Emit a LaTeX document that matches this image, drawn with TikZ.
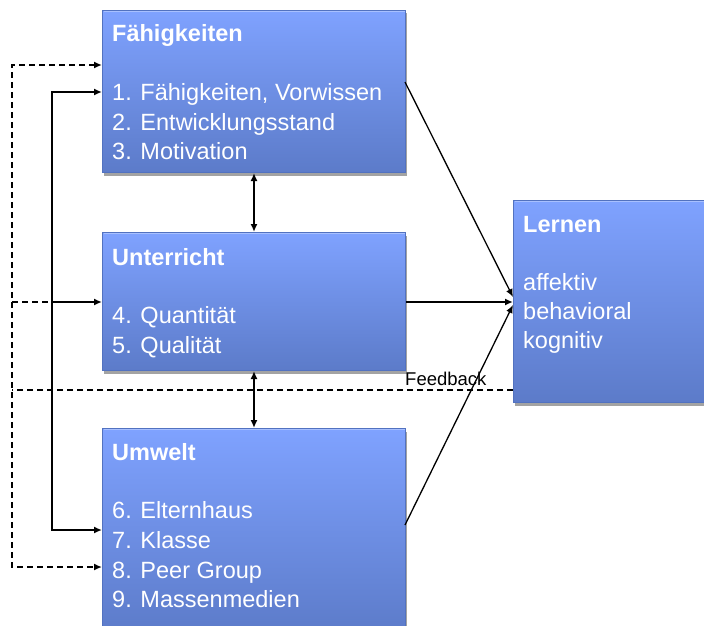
\documentclass[tikz,border=0pt]{standalone}
\usepackage{fontspec}
\setmainfont{Liberation Sans}
\usetikzlibrary{arrows.meta,shadows}
\definecolor{boxtop}{HTML}{7FA2FF}
\definecolor{boxbot}{HTML}{5C7BC9}
\definecolor{boxedge}{HTML}{5272C0}
\definecolor{boxlight}{HTML}{A8C0FF}
\begin{document}
\begin{tikzpicture}[x=1pt,y=-1pt,
  panel/.style={rectangle, inner sep=0pt, anchor=north west,
    top color=boxtop, bottom color=boxbot, draw=boxedge, line width=1pt,
    drop shadow={shadow xshift=1pt, shadow yshift=-3pt, fill=black!45, opacity=0.8}},
  head/.style={anchor=base west, inner sep=0pt, text=white,
    font=\fontsize{23.5}{27}\selectfont\bfseries},
  item/.style={anchor=base west, inner sep=0pt, text=white,
    font=\fontsize{23.5}{27}\selectfont},
  sol/.style={line width=2.6pt},
  dsh/.style={line width=2.4pt, dash pattern=on 6pt off 4pt},
  thin/.style={line width=1.3pt},
  tip/.style={-{Latex[length=8pt,width=7pt]}},
  tips/.style={{Latex[length=8pt,width=7pt]}-{Latex[length=8pt,width=7pt]}}]
\useasboundingbox[fill=white] (0,0) rectangle (704,626);

% the four blocks
\node[panel, minimum width=303pt, minimum height=162pt] (f) at (102,10) {};
\node[panel, minimum width=303pt, minimum height=138pt] (u) at (102,232) {};
\node[panel, minimum width=303pt, minimum height=205pt] (w) at (102,428) {};
\node[panel, minimum width=200pt, minimum height=202pt] (l) at (513,200) {};

% bevel highlight on the top edges
\foreach \b in {f,u,w,l}
  \draw[boxlight, line width=1.5pt] ([shift={(1.5pt,-1.5pt)}]\b.north west) -- ([shift={(-1.5pt,-1.5pt)}]\b.north east);

% block texts
\node[head] (fh) at (112,42) {Fähigkeiten};
\node[item] (f1) at (112,100) {1. Fähigkeiten,\ Vorwissen};
\node[item] (f2) at (112,130) {2. Entwicklungsstand};
\node[item] (f3) at (112,159) {3. Motivation};

\node[head] (uh) at (112,265) {Unterricht};
\node[item] (u4) at (112,323) {4. Quantität};
\node[item] (u5) at (112,353) {5. Qualität};

\node[head] (wh) at (112,460) {Umwelt};
\node[item] (w6) at (112,518) {6. Elternhaus};
\node[item] (w7) at (112,548) {7. Klasse};
\node[item] (w8) at (112,578) {8. Peer\ Group};
\node[item] (w9) at (112,607) {9. Massenmedien};

\node[head] (lh) at (523,232) {Lernen};
\node[item] (l1) at (523,290) {affektiv};
\node[item] (l2) at (523,319) {behavioral};
\node[item] (l3) at (523,348) {kognitiv};

% routing points on the left
\coordinate (d1) at (12,65);
\coordinate (d2) at (12,302);
\coordinate (d3) at (12,567);
\coordinate (s1) at (52,92);
\coordinate (s2) at (52,302);
\coordinate (s3) at (52,530);
\coordinate (fb) at (12,390);
\coordinate (a1) at (405,82);
\coordinate (a3) at (405,525);
\coordinate (e1) at (513,297);
\coordinate (e3) at (513,305);

% dashed outer loop
\draw[dsh, tips] (f.west |- d1) -- (d1) -- (d3) -- (w.west |- d3);
\draw[dsh] (d2) -- (s2);

% solid inner loop
\draw[sol, tips] (f.west |- s1) -- (s1) -- (s3) -- (w.west |- s3);
\draw[sol, tip] (s2) -- (u.west |- s2);

% feedback line
\draw[dsh] (l.west |- fb) -- (fb);
\node[anchor=base west, inner sep=0pt, font=\fontsize{18.5}{21}\selectfont] (fbl) at (405,385) {Feedback};

% links between the blocks
\draw[sol, tips] (f.south) -- (u.north);
\draw[sol, tips] (u.south) -- (w.north);
\draw[sol, tip] (u.east |- s2) -- (l.west |- s2);
\draw[thin, tip] (a1) -- (e1);
\draw[thin, tip] (a3) -- (e3);
\end{tikzpicture}
\end{document}
